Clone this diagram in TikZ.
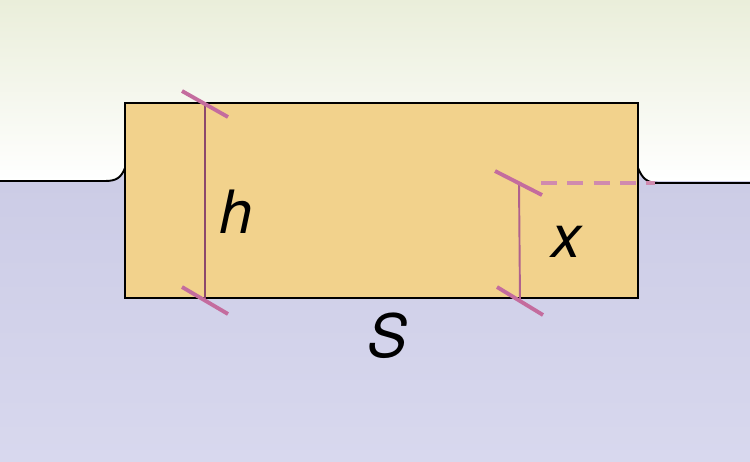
\documentclass[tikz,border=0pt]{standalone}
\usepackage{fontspec}
\setmainfont{TeX Gyre Heros}
\usetikzlibrary{positioning}
\definecolor{skytop}{RGB}{234,238,218}
\definecolor{watertop}{RGB}{204,204,230}
\definecolor{waterbot}{RGB}{216,216,238}
\definecolor{woodfill}{RGB}{242,210,140}
\definecolor{tickpink}{RGB}{196,108,158}
\definecolor{dimpink}{RGB}{140,72,108}
\definecolor{dashpink}{RGB}{208,138,174}

\begin{document}
\begin{tikzpicture}[
    x=0.02cm, y=-0.02cm,
    tick/.style={draw=tickpink, line width=2.2pt},
    dimline/.style={draw=dimpink, line width=1.1pt},
    edge/.style={draw=black, line width=1.1pt},
    dimtext/.style={font=\fontsize{34}{34}\selectfont\itshape, inner sep=0pt}
]
\useasboundingbox (0,0) rectangle (750,461);
% background: air and water
\shade[top color=skytop, bottom color=white] (0,0) rectangle (750,182);
\shade[top color=watertop, bottom color=waterbot] (0,181) rectangle (750,461);
\fill[watertop] (105,181) .. controls (116,181) and (121,178) .. (125,168) -- (125,182) -- cycle;
\fill[watertop] (638,168) .. controls (642,178) and (647,183) .. (658,183) -- (638,184) -- cycle;
\draw[edge] (0,181) -- (105,181) .. controls (116,181) and (121,178) .. (125,168);
\draw[edge] (638,168) .. controls (642,178) and (647,183) .. (658,183) -- (750,183);
% floating block
\filldraw[edge, fill=woodfill] (125,103) rectangle (638,298);
% dimension h
\coordinate (htop) at (205,104);
\coordinate (hbot) at (205,300);
\draw[dimline] (htop) -- (hbot);
\draw[tick] (htop) ++(-23,-13) -- ++(46,26);
\draw[tick] (hbot) ++(-23,-13) -- ++(46,27);
% dimension x
\coordinate (xtop) at (519,183);
\coordinate (xbot) at (520,301);
\coordinate (xlevel) at (655,183);
\draw[dimline, draw=tickpink!90!black] (xtop) -- (xbot);
\draw[tick] (xtop) ++(-24,-12) -- ++(47,24);
\draw[tick] (xbot) ++(-23,-14) -- ++(46,28);
\draw[dashpink, line width=2pt, dash pattern=on 9pt off 6pt] (xtop) ++(22,0) -- (xlevel);
% labels
\node[dimtext] (hlabel) at (236,212) {h};
\node[dimtext] (xlabel) at (566,242) {x};
\node[dimtext] (slabel) at (387,336) {S};
\end{tikzpicture}
\end{document}
